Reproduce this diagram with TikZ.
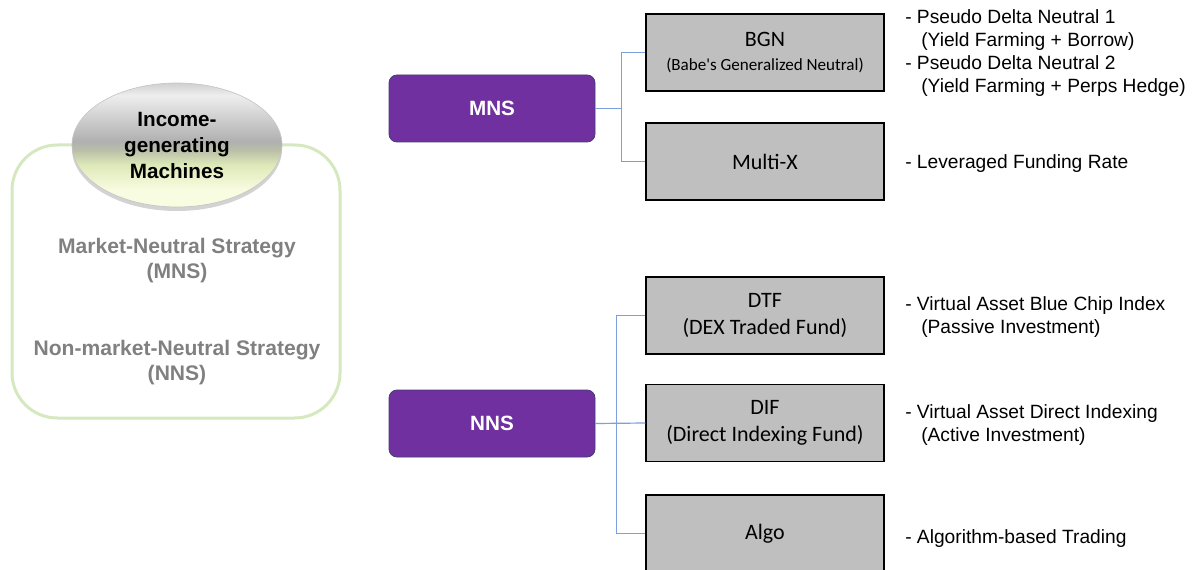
\documentclass[tikz,border=0pt]{standalone}
\usepackage{fontspec}
\setmainfont{Liberation Sans}
\newfontfamily\boxfont{Carlito}
\usetikzlibrary{shapes.geometric,shadows}

\definecolor{mnspurple}{RGB}{112,48,160}
\definecolor{mnsedge}{RGB}{70,60,120}
\definecolor{boxgray}{RGB}{191,191,191}
\definecolor{linkblue}{RGB}{122,160,222}
\definecolor{framegreen}{RGB}{214,232,192}
\definecolor{labelgray}{RGB}{128,128,128}
\definecolor{rimgray}{RGB}{208,208,208}
\definecolor{topgray}{RGB}{238,238,238}
\definecolor{midgray}{RGB}{176,176,176}
\definecolor{olivegray}{RGB}{186,190,168}
\definecolor{lowgreen}{RGB}{221,233,184}
\definecolor{botyellow}{RGB}{248,252,224}
% shading square: 25bp = bottom of the ellipse, 75bp = top
\pgfdeclareverticalshading{glossy}{100bp}{color(0bp)=(botyellow); color(32bp)=(botyellow); color(42bp)=(lowgreen); color(48bp)=(olivegray); color(51.5bp)=(midgray); color(70bp)=(topgray); color(75bp)=(rimgray); color(100bp)=(rimgray)}

\tikzset{
  catbox/.style={draw=mnsedge, line width=0.6pt, fill=mnspurple, rounded corners=6pt,
    minimum width=154.5pt, minimum height=50.25pt, text=white, font=\bfseries\fontsize{15.5}{18}\selectfont},
  fundbox/.style={draw=black, line width=1.1pt, fill=boxgray, minimum width=178.5pt,
    minimum height=57.75pt, align=center, font=\boxfont\fontsize{16.5}{20}\selectfont},
  desc/.style={anchor=west, inner sep=0pt, align=left, font=\fontsize{14.4}{17.25}\selectfont},
  stratlabel/.style={align=center, text=labelgray, font=\bfseries\fontsize{15.8}{18.75}\selectfont},
  link/.style={draw=linkblue, line width=0.9pt}
}

\begin{document}
\begin{tikzpicture}[x=0.75pt,y=-0.75pt]
  \useasboundingbox (0,0) rectangle (1192,570);

  % left panel
  \node[draw=framegreen, line width=2.25pt, rounded corners=34pt,
    minimum width=246pt, minimum height=204.75pt] (frame) at (176,281.5) {};
  \node[ellipse, shading=glossy, draw=gray!45, line width=0.5pt,
    minimum width=157.5pt, minimum height=93pt, inner sep=0pt,
    drop shadow={shadow xshift=0pt, shadow yshift=-3pt, opacity=0.35},
    align=center, font=\bfseries\fontsize{15.5}{19.5}\selectfont] (icm) at (177,145)
    {Income-\\generating\\Machines};
  \node[stratlabel] (mnsl) at (177,261) {Market-Neutral Strategy\\(MNS)};
  \node[stratlabel] (nnsl) at (177,363) {Non-market-Neutral Strategy\\(NNS)};

  % strategy groups
  \node[catbox] (mns) at (492,108.5) {MNS};
  \node[catbox] (nns) at (492,423.5) {NNS};

  % products
  \node[fundbox] (bgn) at (765,52.5) {BGN\\[-2pt]{\fontsize{12.8}{15}\selectfont(Babe's Generalized Neutral)}};
  \node[fundbox] (mtx) at (765,161.5) {Multi-X};
  \node[fundbox] (dtf) at (765,315.5) {DTF\\(DEX Traded Fund)};
  \node[fundbox] (dif) at (765,423) {DIF\\(Direct Indexing Fund)};
  \node[fundbox] (algo) at (765,533.5) {Algo};

  % connectors
  \draw[link] (mns.east) -- ++(26,0) |- (bgn.west);
  \draw[link] (mns.east) -- ++(26,0) |- (mtx.west);
  \draw[link] (nns.east) -- ++(21,0) |- (dtf.west);
  \draw[link] (nns.east) -- (dif.west);
  \draw[link] (nns.east) -- ++(21,0) |- (algo.west);

  % descriptions
  \node[desc] (bgnd) at (905,53.5) {- Pseudo Delta Neutral 1\\\hspace*{12pt}(Yield Farming + Borrow)\\- Pseudo Delta Neutral 2\\\hspace*{12pt}(Yield Farming + Perps Hedge)};
  \node[desc] (mtxd) at (905,164) {- Leveraged Funding Rate};
  \node[desc] (dtfd) at (905,317.5) {- Virtual Asset Blue Chip Index\\\hspace*{12pt}(Passive Investment)};
  \node[desc] (difd) at (905,425.5) {- Virtual Asset Direct Indexing\\\hspace*{12pt}(Active Investment)};
  \node[desc] (algod) at (905,539) {- Algorithm-based Trading};
\end{tikzpicture}
\end{document}
